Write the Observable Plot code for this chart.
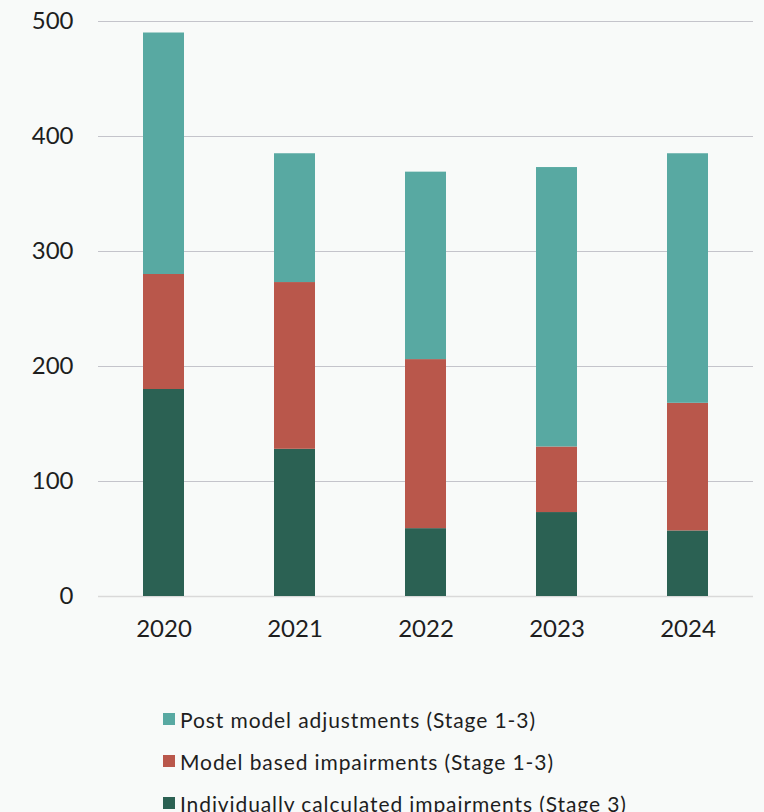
<!DOCTYPE html>
<html>
<head>
<meta charset="utf-8">
<script src="https://cdn.jsdelivr.net/npm/d3@7"></script>
<script src="https://cdn.jsdelivr.net/npm/@observablehq/plot@0.6"></script>
<style>
  html, body { margin: 0; padding: 0; background: #f8faf9; width: 764px; height: 812px; overflow: hidden; }
  #chart { position: absolute; left: 0; top: 0; }
  .legend { position: absolute; left: 163px; top: 698px; font-family: Lato, "Open Sans", sans-serif; font-size: 21px; letter-spacing: 0.9px; color: #1e1e1e; }
  .legend .row { display: flex; align-items: center; height: 42px; white-space: nowrap; }
  .legend .sw { width: 12px; height: 12px; margin-right: 5px; flex: none; }
</style>
</head>
<body>
<div id="chart"></div>
<div class="legend" id="legend"></div>
<script>
const years = ["2020", "2021", "2022", "2023", "2024"];
const individual = [180, 128, 59, 73, 57];
const modelBased = [100, 145, 147, 57, 111];
const postModel = [210, 112, 163, 243, 217];
const seriesNames = [
  "Individually calculated impairments (Stage 3)",
  "Model based impairments (Stage 1-3)",
  "Post model adjustments (Stage 1-3)"
];
const seriesColors = ["#2b6153", "#b9574b", "#58a9a2"];
const yTicks = [0, 100, 200, 300, 400, 500];

const seriesValues = [individual, modelBased, postModel];
const data = [];
seriesNames.forEach((s, i) => {
  years.forEach((yr, j) => data.push({year: yr, series: s, value: seriesValues[i][j]}));
});

const chart = Plot.plot({
  width: 764,
  height: 680,
  marginLeft: 98,
  marginRight: 11,
  marginTop: 21,
  marginBottom: 84,
  style: {background: "transparent", fontFamily: "Lato, 'Open Sans', sans-serif", fontSize: "24px", color: "#1e1e1e"},
  x: {domain: years, paddingInner: 0.687, paddingOuter: 0.3435, label: null, tickSize: 0, tickPadding: 23},
  y: {domain: [0, 500], ticks: yTicks, label: null, tickSize: 0, tickPadding: 25},
  color: {domain: seriesNames, range: seriesColors},
  marks: [
    Plot.ruleY(yTicks.filter(d => d > 0), {stroke: "#c4c4cb", strokeWidth: 1}),
    Plot.ruleY([0], {stroke: "#d9d9d9", strokeWidth: 1.5}),
    Plot.barY(data, Plot.stackY({order: seriesNames}, {x: "year", y: "value", fill: "series"})),
    Plot.axisX({tickSize: 0, tickPadding: 23, fontSize: 24}),
    Plot.axisY({ticks: yTicks, tickSize: 0, tickPadding: 25, fontSize: 24})
  ]
});
document.getElementById("chart").appendChild(chart);

const legend = document.getElementById("legend");
[2, 1, 0].forEach(i => {
  const row = document.createElement("div");
  row.className = "row";
  const sw = document.createElement("span");
  sw.className = "sw";
  sw.style.background = seriesColors[i];
  const label = document.createElement("span");
  label.textContent = seriesNames[i];
  row.appendChild(sw);
  row.appendChild(label);
  legend.appendChild(row);
});
</script>
</body>
</html>
